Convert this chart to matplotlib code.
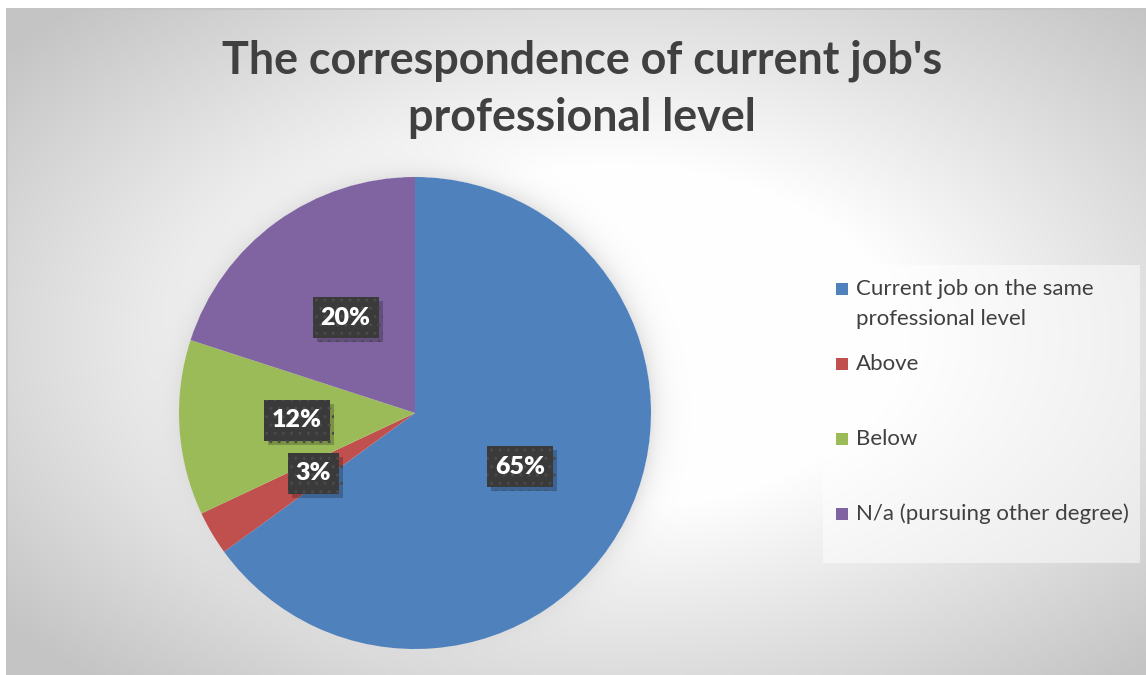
import numpy as np
import matplotlib
matplotlib.use("Agg")
import matplotlib.pyplot as plt
from matplotlib.patches import Rectangle
from matplotlib.transforms import IdentityTransform
import matplotlib.patheffects as pe

# ---- data ----
categories = ["Current job on the same\nprofessional level", "Above", "Below",
              "N/a (pursuing other degree)"]
shares = [65, 3, 12, 20]
colors = ["#4F81BD", "#C0504D", "#9BBB59", "#8064A2"]
title_lines = ["The correspondence of current job's", "professional level"]

plt.rcParams["font.family"] = ["Lato", "DejaVu Sans"]
plt.rcParams["hatch.linewidth"] = 1.0

W, H = 1146, 675
fig = plt.figure(figsize=(W / 100, H / 100), dpi=100)
fig.patch.set_facecolor("white")

# ---- background panel (pixel coordinates, y downward) ----
x0, y0 = 6, 8
bg = fig.add_axes([x0 / W, 0, (W - x0) / W, (H - y0) / H])
bg.set_axis_off()
xs = np.arange(x0, W) + 0.5
ys = np.arange(y0, H) + 0.5
X, Y = np.meshgrid(xs, ys)
cx, cy = 0.53 * W, 0.5 * H
d = np.hypot((X - cx) / (W / 2), (Y - cy) / (H / 2))
t = np.clip((d - 0.5) / 0.85, 0, 1)
val = 1.0 - t * (1 - 0.77)

# soft glow around the pie
pcx, pcy, pr = 415, 413, 236
rr = np.hypot(X - pcx, Y - pcy) - pr
a = np.where(rr > 0, 0.75 * np.exp(-np.clip(rr, 0, None) / 12), 0)
val = val * (1 - a) + 0.86 * a
img = np.dstack([val] * 3)
bg.imshow(img, extent=(x0, W, H, y0), aspect="auto", interpolation="bilinear")
bg.set_xlim(x0, W)
bg.set_ylim(H, y0)
bg.add_patch(Rectangle((x0 + 0.5, y0 + 0.5), W - x0, H - y0, fill=False,
                       edgecolor="#c4c4c4", lw=1.2, zorder=5))

# ---- title ----
title_color = "#404040"
for line, base in zip(title_lines, [73, 131]):
    bg.text(582, base, line, ha="center", va="baseline", fontsize=32.3,
            fontweight="bold", color=title_color, zorder=6)

# ---- pie ----
ax = fig.add_axes([(pcx - pr) / W, (H - pcy - pr) / H, 2 * pr / W, 2 * pr / H])
wedges, texts, autotexts = ax.pie(
    shares, colors=colors, startangle=90, counterclock=False,
    autopct=lambda p: f"{p:.0f}%", pctdistance=0.5,
    wedgeprops=dict(linewidth=0),
)
ax.set_xlim(-1, 1)
ax.set_ylim(-1, 1)
ax.set_aspect("equal")
ax.set_axis_off()

for at in autotexts:
    at.set_color("white")
    at.set_fontsize(18)
    at.set_fontweight("heavy")
    at.set_zorder(10)

# dark patterned label boxes sized around each percentage text
fig.canvas.draw()
renderer = fig.canvas.get_renderer()
box_h, pad_x = 41, 8
for at in autotexts:
    ext = at.get_window_extent(renderer)
    xc = (ext.x0 + ext.x1) / 2
    yc = (ext.y0 + ext.y1) / 2
    bw = ext.width + 2 * pad_x
    box = Rectangle((xc - bw / 2, yc - box_h / 2), bw, box_h,
                    transform=IdentityTransform(), facecolor="#3a3a3a",
                    edgecolor="#4a4a4a", linewidth=0, hatch="..", zorder=9)
    box.set_path_effects([
        pe.SimplePatchShadow(offset=(3, -3), shadow_rgbFace="black", alpha=0.22),
        pe.Normal(),
    ])
    ax.add_artist(box)

# ---- legend ----
bg.add_patch(Rectangle((823, 265), 317, 298, facecolor="white", alpha=0.5,
                       edgecolor="none", zorder=4))
for i, (lab, col) in enumerate(zip(categories, colors)):
    base = 295 + 75 * i
    bg.add_patch(Rectangle((836, base - 12), 12, 12, facecolor=col,
                           edgecolor="none", zorder=6))
    for j, part in enumerate(lab.split("\n")):
        bg.text(856, base + 30 * j, part, ha="left", va="baseline",
                fontsize=16, color=title_color, zorder=6)

fig.savefig("out.png", dpi=100)
